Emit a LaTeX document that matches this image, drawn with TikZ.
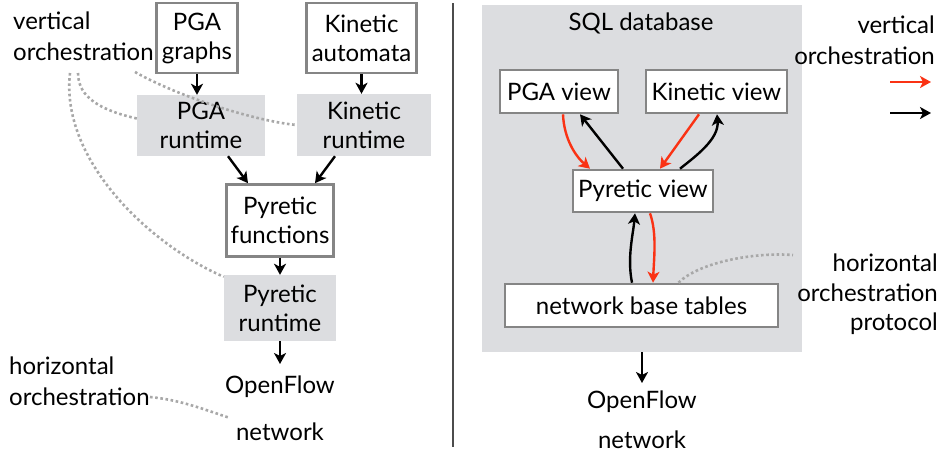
\documentclass[tikz,border=0pt]{standalone}
\usepackage{fontspec}
\setmainfont{Lato}
\usetikzlibrary{arrows.meta}
\definecolor{boxline}{HTML}{858585}
\definecolor{panel}{HTML}{DCDDE0}
\definecolor{vred}{HTML}{FA3214}
\definecolor{dotgray}{HTML}{A8A8A8}
\tikzset{
  x=1pt, y=-1pt,
  every node/.style={font=\fontsize{24}{29}\selectfont, inner sep=0pt},
  framed/.style={draw=boxline, line width=2.6pt, fill=white, align=center},
  shaded/.style={fill=panel, align=center},
  label/.style={align=left, font=\fontsize{24}{31}\selectfont},
  rlabel/.style={align=right, anchor=north east},
  arr/.style={line width=2.4pt, -{Stealth[length=11pt,width=12pt,inset=3pt]}},
  redarr/.style={arr, vred},
  dotline/.style={dotgray, line width=2.6pt, dash pattern=on 2.6pt off 2.6pt},
}
\begin{document}
\begin{tikzpicture}
\useasboundingbox (0,0) rectangle (945,453);

% ---------- left: layered runtimes ----------
\node[shaded, minimum width=128, minimum height=61] (pgar) at (201,125.5) {PGA\\runtime};
\node[shaded, minimum width=134, minimum height=62] (kinr) at (364,125) {Kinetic\\runtime};
\node[shaded, minimum width=112, minimum height=66] (pyr) at (280,308) {Pyretic\\runtime};

% dotted leaders for the "vertical orchestration" label
\node[label, anchor=north west] (vleft) at (13,12) {vertical\\orchestration};
\coordinate (va) at (135,72);
\coordinate (vb) at (78,73);
\coordinate (vc) at (70,73);
\draw[dotline] (va) .. controls +(50,28) and +(-35,-3) .. (kinr.west);
\draw[dotline] (vb) .. controls +(0,25) and +(-35,-8) .. ([yshift=7pt]pgar.west);
\draw[dotline] (vc) .. controls +(-10,87) and +(-74,-32) .. ([yshift=-2pt]pyr.north west);

\node[framed, minimum width=81, minimum height=70] (pgag) at (197,38) {PGA\\graphs};
\node[framed, minimum width=110, minimum height=70] (kina) at (361.5,38) {Kinetic\\automata};
\node[framed, minimum width=107, minimum height=72] (pyf) at (280,220.5) {Pyretic\\functions};

\node (of1) at (280,387) {OpenFlow};
\node (net1) at (280,432) {network};
\node[label, anchor=north west] (hleft) at (9,357) {horizontal\\orchestration};
\coordinate (ha) at (150,397);
\coordinate (hb) at (230,418);
\draw[dotline] (ha) .. controls +(30,3) and +(-30,-10) .. (hb);

\draw[arr] (pgag.south) -- (pgag.south |- pgar.north);
\draw[arr] (kina.south) -- (kina.south |- kinr.north);
\draw[arr] ([xshift=27pt]pgar.south) -- ([xshift=-32pt]pyf.north);
\draw[arr] ([xshift=-29pt]kinr.south) -- ([xshift=35pt]pyf.north);
\draw[arr] (pyf.south) -- (pyr.north);
\coordinate (of1top) at (280,364);
\draw[arr] (pyr.south) -- (of1top);

% divider
\draw[black!70, line width=1.2pt] (453,3) -- (453,447);

% ---------- right: SQL database ----------
\node[fill=panel, minimum width=320, minimum height=347] (sql) at (642,178.5) {};
\node (sqlt) at (641,23) {SQL database};
\node[framed, minimum width=118, minimum height=43] (pgav) at (559,91.5) {PGA view};
\node[framed, minimum width=141, minimum height=43] (kinv) at (716.5,91.5) {Kinetic view};
\node[framed, minimum width=140, minimum height=42] (pyv) at (643,191) {Pyretic view};
\node[framed, minimum width=273, minimum height=43] (nbt) at (641.5,305.5) {network base tables};

\draw[redarr] ([xshift=4pt]pgav.south) .. controls +(1,25) and +(-14,-12) .. ([xshift=-53pt]pyv.north);
\draw[arr] ([xshift=-20pt]pyv.north) -- ([xshift=21pt]pgav.south);
\draw[redarr] ([xshift=-17.5pt]kinv.south) -- ([xshift=17pt]pyv.north);
\draw[arr] ([xshift=37pt]pyv.north) .. controls +(15,-12) and +(2,25) .. ([xshift=0.5pt]kinv.south);
\draw[arr] ([xshift=-9.5pt]nbt.north) .. controls +(-5,-25) and +(-2,22) .. ([xshift=-8pt]pyv.south);
\draw[redarr] ([xshift=7pt]pyv.south) .. controls +(7,20) and +(1,-25) .. ([xshift=11.5pt]nbt.north);

\coordinate (hr) at (793,255);
\draw[dotline] ([xshift=37pt]nbt.north) .. controls +(20,-20) and +(-40,-3) .. (hr);

\node (of2) at (642,402) {OpenFlow};
\node (net2) at (642,440) {network};
\coordinate (of2top) at (642,383);
\draw[arr] (sql.south) -- (of2top);

% legend
\node[label, rlabel, align=right] (vright) at (935,16) {vertical\\orchestration};
\coordinate (lr1) at (890,82);
\coordinate (lr2) at (931,82);
\coordinate (lb1) at (890,113);
\coordinate (lb2) at (931,113);
\draw[redarr] (lr1) -- (lr2);
\draw[arr] (lb1) -- (lb2);
\node[rlabel, font=\fontsize{24}{29.5}\selectfont] (hright) at (938,254) {horizontal\\orchestration\\protocol};
\end{tikzpicture}
\end{document}
